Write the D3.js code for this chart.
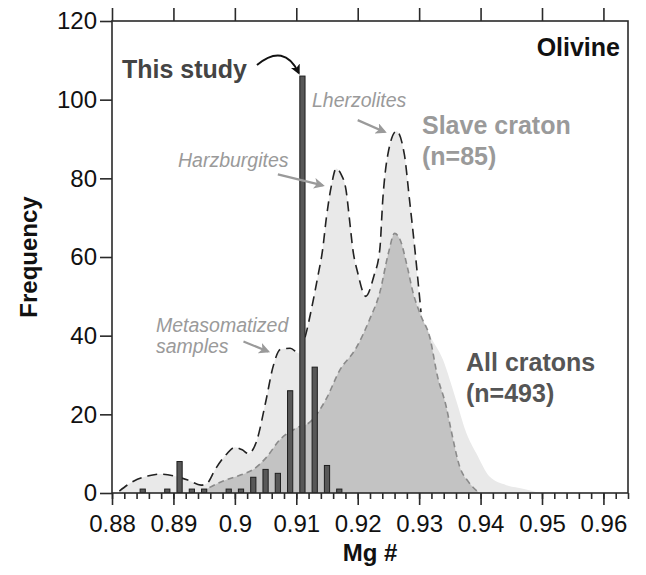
<!DOCTYPE html>
<html><head><meta charset="utf-8">
<script src="https://cdn.jsdelivr.net/npm/d3@7"></script>
<style>
body{margin:0;background:#fff}
text{font-family:"Liberation Sans",Arial,Helvetica,sans-serif}
</style>
</head><body>
<svg id="chart" width="646" height="575"></svg>
<script>
// ---------- data ----------
const xTickValues = [0.88, 0.89, 0.90, 0.91, 0.92, 0.93, 0.94, 0.95, 0.96];
const xTickLabels = ["0.88", "0.89", "0.9", "0.91", "0.92", "0.93", "0.94", "0.95", "0.96"];
const yTickValues = [0, 20, 40, 60, 80, 100, 120];

// This study histogram (bin centres, counts)
const studyMg   = [0.885, 0.889, 0.891, 0.893, 0.895, 0.899, 0.901, 0.903, 0.905, 0.907, 0.909, 0.911, 0.913, 0.915, 0.917];
const studyFreq = [1, 1, 8, 1, 1, 1, 1, 4, 6, 5, 26, 106, 32, 7, 1];

// Slave craton distribution
const slaveMg   = [0.8812, 0.8835, 0.8858, 0.8880, 0.8905, 0.8925, 0.8945, 0.8955, 0.8968, 0.8986, 0.9000, 0.9012, 0.9022, 0.9035, 0.9050, 0.9062, 0.9074, 0.9090, 0.9105, 0.9115, 0.9125, 0.9135, 0.9143, 0.9149, 0.9157, 0.9165, 0.9173, 0.9181, 0.9187, 0.9192, 0.9200, 0.9213, 0.9226, 0.9236, 0.9241, 0.9249, 0.9263, 0.9276, 0.9284, 0.9293, 0.9303, 0.9315, 0.9339, 0.9360, 0.9377, 0.9393, 0.9415, 0.9442, 0.9469, 0.9496];
const slaveFreq = [0.5, 3, 4.3, 4.8, 4.2, 3.2, 2, 2.5, 6, 9.8, 11.6, 11, 10, 13, 23, 32, 36.5, 36.8, 35.5, 40, 47, 55, 62, 70, 78, 82.5, 81, 77, 69, 62, 56, 50, 55, 62, 75, 86, 92, 86, 75, 62, 46, 41, 33.8, 23.7, 15.2, 10.1, 4.1, 2, 1.1, 0];
const slaveStrokeEnd = 0.9303;

// All cratons distribution
const allMg   = [0.8945, 0.8960, 0.8980, 0.9008, 0.9030, 0.9051, 0.9073, 0.9100, 0.9122, 0.9149, 0.9170, 0.9198, 0.9219, 0.9236, 0.9250, 0.9260, 0.9270, 0.9280, 0.9290, 0.9303, 0.9317, 0.9330, 0.9344, 0.9352, 0.9366, 0.9380, 0.9398];
const allFreq = [0, 1.5, 3, 4.5, 6, 9, 13.5, 16.5, 18, 24, 31, 37, 44, 51, 61, 66, 64, 58, 51, 45, 39.8, 29.6, 22, 16, 6.7, 2.9, 0];

// ---------- chart ----------
const svg = d3.select("#chart");
const x = d3.scaleLinear().domain([0.88, 0.964]).range([112, 628]);
const y = d3.scaleLinear().domain([0, 120]).range([493, 21]);

svg.append("defs").append("clipPath").attr("id", "plotclip")
  .append("rect").attr("x", 112).attr("y", 21).attr("width", 516).attr("height", 472);

const plot = svg.append("g").attr("clip-path", "url(#plotclip)");

const slave = slaveMg.map((m, i) => ({m, f: slaveFreq[i]}));
const all = allMg.map((m, i) => ({m, f: allFreq[i]}));

const area = d3.area().x(d => x(d.m)).y0(y(0)).y1(d => y(d.f)).curve(d3.curveMonotoneX);
const line = d3.line().x(d => x(d.m)).y(d => y(d.f)).curve(d3.curveMonotoneX);

plot.append("path").datum(slave).attr("d", area).attr("fill", "#e9e9e9");
plot.append("path").datum(all).attr("d", area).attr("fill", "#c3c3c3");
plot.append("path").datum(all).attr("d", line).attr("fill", "none")
  .attr("stroke", "#8a8a8a").attr("stroke-width", 1.6).attr("stroke-dasharray", "6,4");
plot.append("path").datum(slave.filter(d => d.m <= slaveStrokeEnd)).attr("d", line).attr("fill", "none")
  .attr("stroke", "#222").attr("stroke-width", 1.6).attr("stroke-dasharray", "10,6");

// bars
const bw = 0.00085;
plot.selectAll("rect.bar").data(studyMg).join("rect").attr("class", "bar")
  .attr("x", d => x(d - bw / 2)).attr("width", x(bw) - x(0))
  .attr("y", (d, i) => y(studyFreq[i])).attr("height", (d, i) => y(0) - y(studyFreq[i]))
  .attr("fill", "#585858").attr("stroke", "#1e1e1e").attr("stroke-width", 1);

// frame
svg.append("rect").attr("x", 112).attr("y", 21).attr("width", 516).attr("height", 472)
  .attr("fill", "none").attr("stroke", "#2a2a2a").attr("stroke-width", 1.6);

// axes
function styleAxis(g) {
  g.select(".domain").remove();
  g.selectAll(".tick line").attr("stroke", "#2a2a2a").attr("stroke-width", 1.6);
  g.selectAll(".tick text").attr("fill", "#111").style("font-size", "24px")
    .style("font-family", '"Liberation Sans",Arial,sans-serif');
}
const minorTicks = d3.range(0, 43).map(i => 0.88 + i * 0.002);
svg.append("g").attr("transform", "translate(0,493)")
  .call(d3.axisBottom(x).tickValues(minorTicks).tickSize(6).tickFormat(""))
  .call(styleAxis);
svg.append("g").attr("transform", "translate(0,493)")
  .call(d3.axisBottom(x).tickValues(xTickValues).tickSize(12).tickPadding(10)
    .tickFormat((d, i) => xTickLabels[i]))
  .call(styleAxis);
svg.append("g").attr("transform", "translate(0,21)")
  .call(d3.axisTop(x).tickValues(xTickValues).tickSize(13).tickFormat(""))
  .call(styleAxis);
svg.append("g").attr("transform", "translate(112,0)")
  .call(d3.axisLeft(y).tickValues(yTickValues).tickSize(12).tickPadding(3))
  .call(styleAxis);

// axis titles
svg.append("text").attr("x", 370).attr("y", 561).attr("text-anchor", "middle")
  .style("font-size", "24px").style("font-weight", "bold").attr("fill", "#111").text("Mg #");
svg.append("text").attr("transform", "translate(37,257) rotate(-90)").attr("text-anchor", "middle")
  .style("font-size", "24px").style("font-weight", "bold").attr("fill", "#111").text("Frequency");

// labels
const bold = (t, xx, yy, col, anchor) => svg.append("text").attr("x", xx).attr("y", yy)
  .attr("text-anchor", anchor || "start")
  .style("font-size", "25px").style("font-weight", "bold").attr("fill", col).text(t);
bold("Olivine", 620, 56, "#111", "end");
bold("This study", 122, 78, "#444");
bold("Slave craton", 422, 134, "#9a9a9a");
bold("(n=85)", 422, 165, "#9a9a9a");
bold("All cratons", 466, 371, "#555");
bold("(n=493)", 466, 402, "#555");

const italic = (t, xx, yy) => svg.append("text").attr("x", xx).attr("y", yy)
  .style("font-size", "19.5px").style("font-style", "italic").attr("fill", "#9a9a9a").text(t);
italic("Lherzolites", 312, 107);
italic("Harzburgites", 178, 167);
italic("Metasomatized", 156, 332);
italic("samples", 156, 353);

// arrows
const defs = svg.select("defs");
function marker(id, color) {
  defs.append("marker").attr("id", id).attr("viewBox", "0 0 10 10").attr("refX", 8).attr("refY", 5)
    .attr("markerWidth", 5).attr("markerHeight", 5).attr("orient", "auto")
    .attr("markerUnits", "strokeWidth")
    .append("path").attr("d", "M0,0 L10,5 L0,10 L2.5,5 Z").attr("fill", color);
}
marker("ahGray", "#9a9a9a");
marker("ahBlack", "#111");

function arrow(x1, y1, x2, y2, color, mk) {
  svg.append("line").attr("x1", x(x1)).attr("y1", y(y1)).attr("x2", x(x2)).attr("y2", y(y2))
    .attr("stroke", color).attr("stroke-width", 2.2).attr("marker-end", `url(#${mk})`);
}
arrow(0.9200, 94.8, 0.9244, 91.8, "#9a9a9a", "ahGray");   // Lherzolites
arrow(0.9070, 81, 0.9143, 78.2, "#9a9a9a", "ahGray");     // Harzburgites
arrow(0.9014, 38.5, 0.9054, 36, "#9a9a9a", "ahGray");     // Metasomatized

svg.append("path")
  .attr("d", `M${x(0.9036)},${y(108.8)} Q${x(0.9080)},${y(114.5)} ${x(0.9104)},${y(106.8)}`)
  .attr("fill", "none").attr("stroke", "#111").attr("stroke-width", 2).attr("marker-end", "url(#ahBlack)");
</script>
</body></html>
